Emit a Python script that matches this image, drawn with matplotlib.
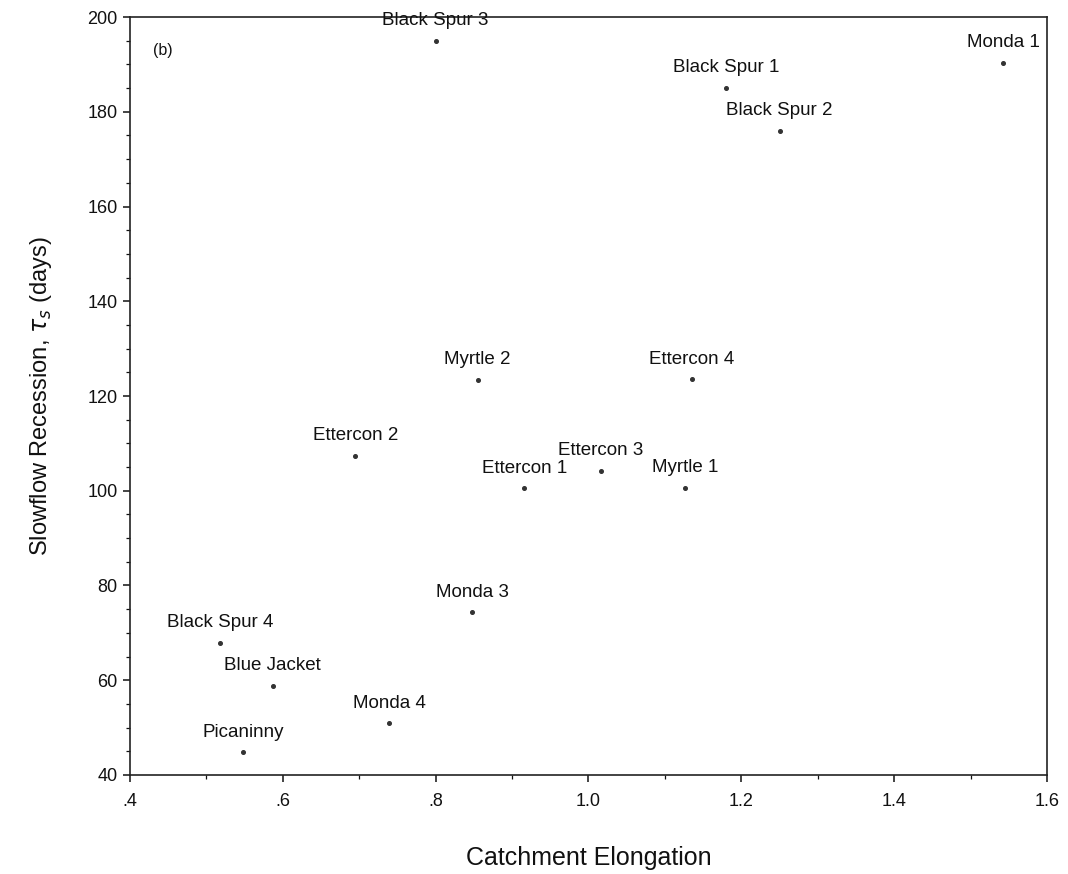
import matplotlib
matplotlib.use("Agg")
import matplotlib.pyplot as plt
from matplotlib.ticker import MultipleLocator, FixedLocator

plt.rcParams['font.family'] = ['Liberation Sans', 'DejaVu Sans']

# Catchment elongation vs slowflow recession constant
catchments = [
    "Black Spur 3", "Monda 1", "Black Spur 1", "Black Spur 2",
    "Myrtle 2", "Ettercon 4", "Ettercon 2", "Ettercon 3",
    "Ettercon 1", "Myrtle 1", "Monda 3", "Black Spur 4",
    "Blue Jacket", "Monda 4", "Picaninny",
]
elongation = [0.80, 1.543, 1.18, 1.25,
              0.855, 1.135, 0.695, 1.016,
              0.916, 1.126, 0.848, 0.518,
              0.587, 0.739, 0.548]
recession_days = [195.0, 190.4, 185.0, 176.0,
                  123.4, 123.5, 107.4, 104.2,
                  100.5, 100.6, 74.3, 67.9,
                  58.8, 50.9, 44.8]

x_ticks = [0.4, 0.6, 0.8, 1.0, 1.2, 1.4, 1.6]
x_tick_labels = [".4", ".6", ".8", "1.0", "1.2", "1.4", "1.6"]
y_ticks = [40, 60, 80, 100, 120, 140, 160, 180, 200]

fig = plt.figure(figsize=(10.68, 8.74), dpi=100)
ax = fig.add_axes([0.1217, 0.1133, 0.8586, 0.8672])

ax.plot(elongation, recession_days, linestyle="none", marker="o",
        markersize=2.6, color="#333333")

for name, x, y in zip(catchments, elongation, recession_days):
    ax.annotate(name, (x, y), xytext=(0, 14.5), textcoords="offset points",
                ha="center", va="center", fontsize=13.5, color="#111111",
                annotation_clip=False)

ax.text(0.036, 0.956, "(b)", transform=ax.transAxes, ha="center",
        va="center", fontsize=11.5, color="#111111")

ax.set_xlim(0.4, 1.6)
ax.set_ylim(40, 200)
ax.xaxis.set_major_locator(FixedLocator(x_ticks))
ax.set_xticklabels(x_tick_labels)
ax.xaxis.set_minor_locator(MultipleLocator(0.1))
ax.yaxis.set_major_locator(FixedLocator(y_ticks))
ax.yaxis.set_minor_locator(MultipleLocator(5))

ax.tick_params(which="major", direction="out", length=5, width=1.1,
               labelsize=13, colors="#111111", pad=4)
ax.tick_params(axis="x", which="major", pad=8)
ax.tick_params(which="minor", direction="out", length=3, width=0.9,
               colors="#111111")
for side in ax.spines.values():
    side.set_linewidth(1.2)
    side.set_color("#222222")

ax.set_xlabel("Catchment Elongation", fontsize=18, color="#111111",
              labelpad=26)
ax.set_ylabel("Slowflow Recession, $\\tau_s$ (days)", fontsize=17,
              color="#111111", labelpad=24)

fig.savefig("out.png", dpi=100, facecolor="white")
